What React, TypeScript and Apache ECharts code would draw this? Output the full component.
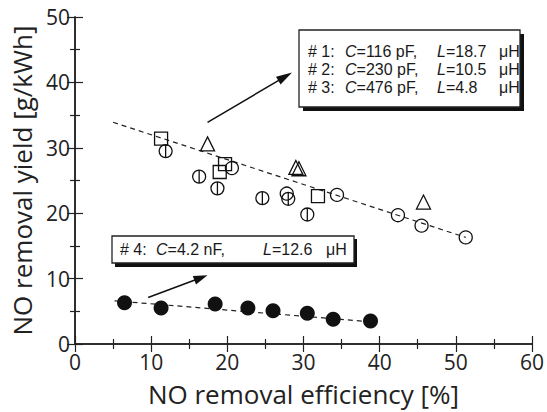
import React, { useEffect, useRef } from "react";
import * as echarts from "echarts";

const FONT = "Open Sans";
const BOX_FONT = "Liberation Sans";

const phiCircleX = [11.9, 16.3, 18.7, 24.6, 28.0, 30.5];
const phiCircleY = [29.5, 25.6, 23.8, 22.3, 22.2, 19.8];
const openCircleX = [20.6, 27.8, 34.4, 42.4, 45.5, 51.3];
const openCircleY = [26.9, 23.0, 22.8, 19.7, 18.1, 16.3];
const squareX = [11.3, 19.0, 19.7, 31.9];
const squareY = [31.4, 26.3, 27.5, 22.6];
const triangleX = [17.4, 29.0, 29.4, 45.75];
const triangleY = [30.6, 27.0, 26.8, 21.7];
const filledX = [6.5, 11.3, 18.4, 22.7, 26.0, 30.5, 33.9, 38.8];
const filledY = [6.3, 5.5, 6.1, 5.5, 5.1, 4.7, 3.8, 3.5];

const upperTrend = [[5.0, 33.9], [51.3, 16.3]];
const lowerTrend = [[5.2, 6.6], [38.8, 3.4]];

const arrowUpper = [[17.4, 33.9], [28.5, 41.5]];
const arrowLower = [[9.6, 7.1], [17.4, 10.5]];

const xTicks = { min: 0, max: 60, interval: 10 };
const yTicks = { min: 0, max: 50, interval: 10 };

const legendLines = [
  ["# 1:", "116 pF,", "18.7"],
  ["# 2:", "230 pF,", "10.5"],
  ["# 3:", "476 pF,", "4.8"],
];
const legend4 = ["# 4:", "4.2 nF,", "12.6"];

const zip = (xs: number[], ys: number[]) => xs.map((x, i) => [x, ys[i]]);

const PHI = "path://M10,0 A10,10 0 1,1 10,20 A10,10 0 1,1 10,0 Z M10,0 L10,20";

export default function App() {
  const ref = useRef<HTMLDivElement>(null);
  useEffect(() => {
    if (!ref.current) return;
    const chart = echarts.init(ref.current, null, { renderer: "svg" });
    const FS = 16;
    const rich = {
      i: { fontFamily: BOX_FONT, fontSize: FS, fontStyle: "italic", fill: "#1a1a1a", lineHeight: 16 },
      n: { fontFamily: BOX_FONT, fontSize: FS, fill: "#1a1a1a", lineHeight: 16 },
    };
    const txt = (x: number, y: number, text: string) => ({
      type: "text",
      x,
      y,
      z: 110,
      style: { text, rich, fontFamily: BOX_FONT, fontSize: FS, fill: "#1a1a1a", verticalAlign: "middle", lineHeight: 16 },
    });
    const graphics: any[] = [
      { type: "rect", z: 100, shape: { x: 303, y: 34, width: 221, height: 77 }, style: { fill: "#111" } },
      { type: "rect", z: 101, shape: { x: 299, y: 30, width: 221, height: 77 }, style: { fill: "#fff", stroke: "#222", lineWidth: 1.3 } },
      { type: "rect", z: 100, shape: { x: 115, y: 239, width: 242, height: 28 }, style: { fill: "#111" } },
      { type: "rect", z: 101, shape: { x: 112, y: 236, width: 242, height: 27 }, style: { fill: "#fff", stroke: "#222", lineWidth: 1.3 } },
    ];
    legendLines.forEach((l, k) => {
      const y = 51 + k * 18.3;
      graphics.push(txt(308, y, "{n|" + l[0] + "}"));
      graphics.push(txt(345, y, "{i|C}{n|=" + l[1] + "}"));
      graphics.push(txt(437, y, "{i|L}{n|=" + l[2] + "}"));
      graphics.push(txt(499, y, "{n|μH}"));
    });
    graphics.push(txt(120, 249.5, "{n|" + legend4[0] + "}"));
    graphics.push(txt(156, 249.5, "{i|C}{n|=" + legend4[1] + "}"));
    graphics.push(txt(263, 249.5, "{i|L}{n|=" + legend4[2] + "}"));
    graphics.push(txt(326, 249.5, "{n|μH}"));

    const axisCommon = {
      axisLine: { lineStyle: { color: "#222", width: 1.5 } },
      axisTick: { inside: true, length: 8, lineStyle: { color: "#222", width: 1.2 } },
      minorTick: { show: true, splitNumber: 2, length: 5, lineStyle: { color: "#222", width: 1.2 } },
      splitLine: { show: false },
    };
    const dashed = { color: "#222", width: 1.2, type: [5, 4] };
    const scatter = (data: number[][], symbol: string, size: number, filled = false) => ({
      type: "scatter",
      data,
      symbol,
      symbolSize: size,
      itemStyle: {
        color: filled ? "#111" : "rgba(0,0,0,0)",
        borderColor: "#111",
        borderWidth: filled ? 0 : 1.3,
        opacity: 1,
      },
      z: 5,
    });

    chart.setOption({
      animation: false,
      backgroundColor: "#fff",
      grid: { left: 75, right: 13, top: 17, bottom: 66 },
      graphic: graphics,
      xAxis: [
        {
          type: "value",
          ...xTicks,
          position: "bottom",
          ...axisCommon,
          axisLabel: { fontFamily: FONT, fontSize: 21, color: "#222", margin: 7 },
          name: "NO removal efficiency [%]",
          nameLocation: "middle",
          nameGap: 37,
          nameTextStyle: { fontFamily: FONT, fontSize: 26, color: "#222" },
        },
        {
          type: "value",
          ...xTicks,
          position: "top",
          ...axisCommon,
          axisLabel: { show: false },
        },
      ],
      yAxis: [
        {
          type: "value",
          ...yTicks,
          position: "left",
          ...axisCommon,
          axisLabel: { fontFamily: FONT, fontSize: 21, color: "#222", margin: 5 },
          name: "NO removal yield [g/kWh]",
          nameLocation: "middle",
          nameGap: 40,
          nameTextStyle: { fontFamily: FONT, fontSize: 26, color: "#222" },
        },
        {
          type: "value",
          ...yTicks,
          position: "right",
          ...axisCommon,
          axisLabel: { show: false },
        },
      ],
      series: [
        { type: "line", data: upperTrend, showSymbol: false, lineStyle: dashed, z: 3 },
        { type: "line", data: lowerTrend, showSymbol: false, lineStyle: dashed, z: 3 },
        scatter(zip(phiCircleX, phiCircleY), PHI, 13),
        scatter(zip(openCircleX, openCircleY), "circle", 13),
        scatter(zip(squareX, squareY), "rect", 13),
        scatter(zip(triangleX, triangleY), "triangle", 14),
        scatter(zip(filledX, filledY), "circle", 15, true),
      ],
    });

    // arrows, positioned through the chart's own scales
    const arrowGraphics: any[] = [];
    [arrowUpper, arrowLower].forEach((a, k) => {
      const p0 = chart.convertToPixel({ xAxisIndex: 0, yAxisIndex: 0 }, a[0]) as number[];
      const p1 = chart.convertToPixel({ xAxisIndex: 0, yAxisIndex: 0 }, a[1]) as number[];
      const dx = p1[0] - p0[0];
      const dy = p1[1] - p0[1];
      const len = Math.sqrt(dx * dx + dy * dy);
      const ux = dx / len;
      const uy = dy / len;
      const hl = k === 0 ? 16 : 14;
      const hw = 4.5;
      const bx = p1[0] - ux * hl;
      const by = p1[1] - uy * hl;
      arrowGraphics.push({
        type: "line",
        z: 50,
        shape: { x1: p0[0], y1: p0[1], x2: bx + ux * 2, y2: by + uy * 2 },
        style: { stroke: "#111", lineWidth: 1.5 },
      });
      arrowGraphics.push({
        type: "polygon",
        z: 50,
        shape: {
          points: [
            [p1[0], p1[1]],
            [bx - uy * hw, by + ux * hw],
            [bx + uy * hw, by - ux * hw],
          ],
        },
        style: { fill: "#111" },
      });
    });
    chart.setOption({ graphic: [...graphics, ...arrowGraphics] });

    return () => chart.dispose();
  }, []);
  return <div ref={ref} style={{ width: 547, height: 412, position: "absolute", left: 0, top: 0 }} />;
}
